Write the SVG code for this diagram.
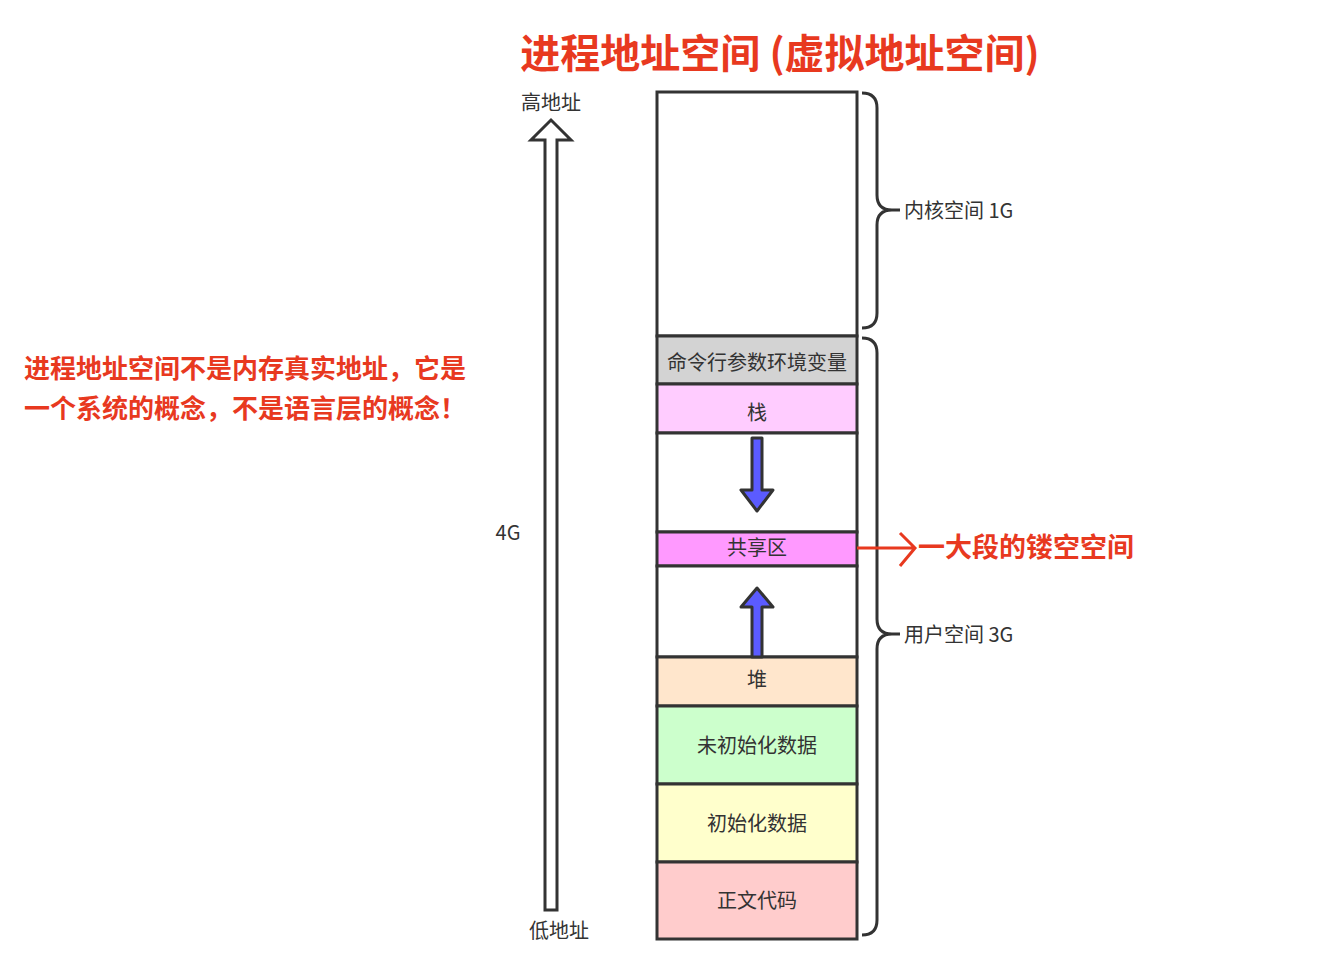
<svg xmlns="http://www.w3.org/2000/svg" width="1332" height="969" viewBox="0 0 1332 969">
<style>
text{font-family:"Noto Sans CJK SC","Noto Sans",sans-serif}
.g{fill:#333;font-size:20px}
.c{text-anchor:middle}
.r{fill:#e8391f;font-weight:bold}
.b{fill:none;stroke:#333;stroke-width:3}
.seg{stroke:#333;stroke-width:3}
.blue{fill:#5b5bff;stroke:#333;stroke-width:3;stroke-linejoin:round}
</style>
<rect width="1332" height="969" fill="#fff"/>
<text x="780" y="68" class="r c" font-size="40">进程地址空间 (虚拟地址空间)</text>
<text x="24" y="378" class="r" font-size="26">进程地址空间不是内存真实地址，它是</text>
<text x="24" y="418" class="r" font-size="26">一个系统的概念，不是语言层的概念！</text>
<g id="addr-arrow">
<path d="M545,910 V140 H531 L551,120 L571,140 H557 V910 Z" fill="#fff" stroke="#333" stroke-width="3" stroke-linejoin="miter"/>
<text x="551" y="110" class="g c">高地址</text>
<text x="559" y="938" class="g c">低地址</text>
<text x="508" y="540" class="g c">4G</text>
</g>
<g id="kernel"><rect x="657" y="92" width="200" height="244" fill="#fff" class="seg"/></g>
<g id="args"><rect x="657" y="336" width="200" height="48" fill="#d3d3d3" class="seg"/><text x="757" y="370" class="g c">命令行参数环境变量</text></g>
<g id="stack"><rect x="657" y="384" width="200" height="49" fill="#ffccff" class="seg"/><text x="757" y="420" class="g c">栈</text></g>
<g id="gap1"><rect x="657" y="433" width="200" height="99" fill="#fff" class="seg"/></g>
<g id="shared"><rect x="657" y="532" width="200" height="34" fill="#ff99ff" class="seg"/><text x="757" y="555" class="g c">共享区</text></g>
<g id="gap2"><rect x="657" y="566" width="200" height="91" fill="#fff" class="seg"/></g>
<g id="heap"><rect x="657" y="657" width="200" height="49" fill="#ffe6cc" class="seg"/><text x="757" y="687" class="g c">堆</text></g>
<g id="bss"><rect x="657" y="706" width="200" height="78" fill="#ccffcc" class="seg"/><text x="757" y="753" class="g c">未初始化数据</text></g>
<g id="data"><rect x="657" y="784" width="200" height="78" fill="#ffffcc" class="seg"/><text x="757" y="831" class="g c">初始化数据</text></g>
<g id="text"><rect x="657" y="862" width="200" height="77" fill="#ffcccc" class="seg"/><text x="757" y="908" class="g c">正文代码</text></g>
<g id="connectors">
<path class="blue" d="M752,438 H762 V490 H773 L757,511 L741,490 H752 Z"/>
<path class="blue" d="M752,657 V607 H741 L757,588 L773,607 H762 V657 Z"/>
<path class="b" d="M862,93 Q877,93 877,108 V195 Q877,210 892,210 H900 M892,210 Q877,210 877,225 V313 Q877,328 862,328"/>
<path class="b" d="M862,338 Q877,338 877,353 V619 Q877,634 892,634 H900 M892,634 Q877,634 877,649 V920 Q877,935 862,935"/>
<path d="M857,548 H914 M900,533 L915,548 L900,566" fill="none" stroke="#e8391f" stroke-width="3"/>
</g>
<text x="904" y="218" class="g">内核空间 1G</text>
<text x="904" y="642" class="g">用户空间 3G</text>
<text x="918" y="557" class="r" font-size="27">一大段的镂空空间</text>
</svg>
